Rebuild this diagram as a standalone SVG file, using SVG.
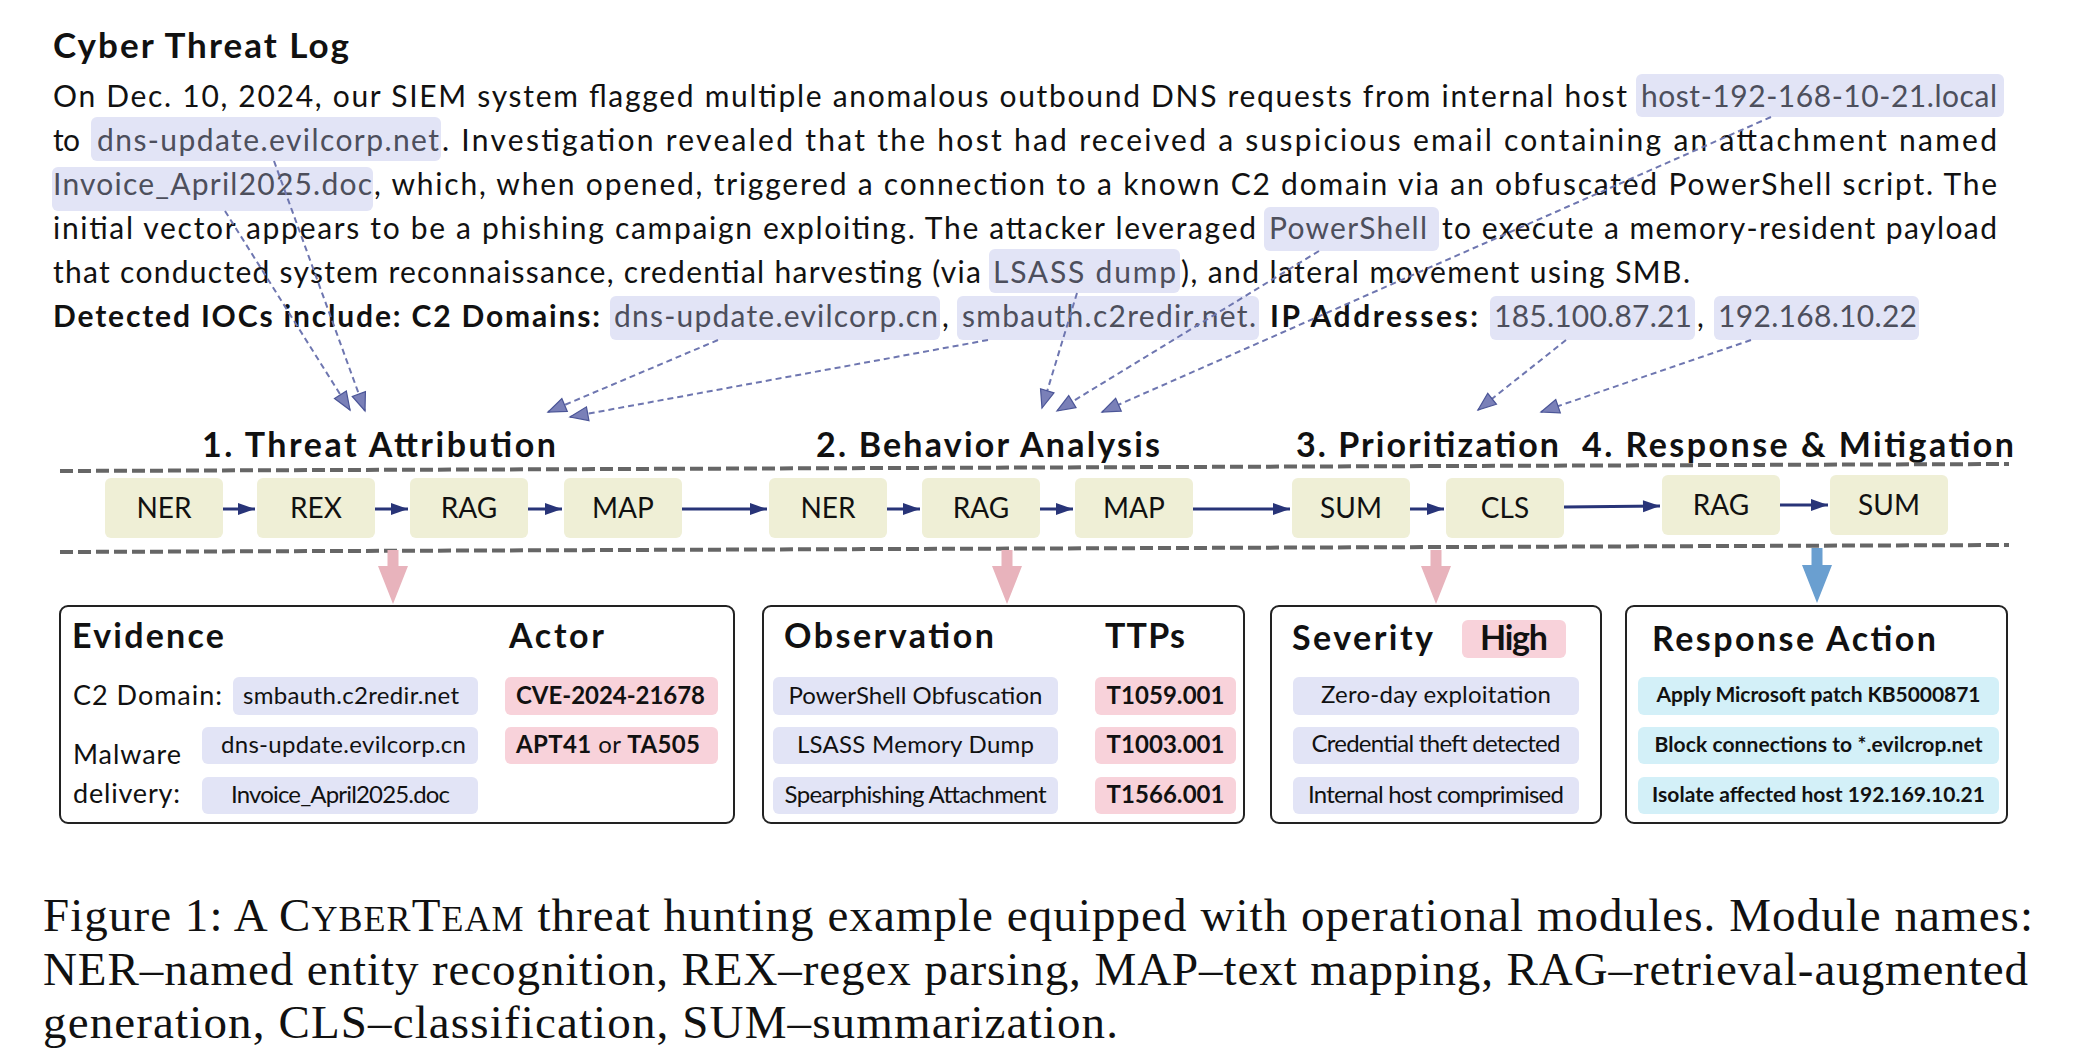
<svg xmlns="http://www.w3.org/2000/svg" width="2077" height="1064" viewBox="0 0 2077 1064">
<style>
  text { font-family: Lato, "Noto Sans", "Liberation Sans", sans-serif; fill: #111; }
  .title { font-size: 35px; font-weight: 700; }
  .body { font-size: 30px; }
  .bodyb { font-size: 30px; font-weight: 700; }
  .hlt { font-size: 30px; fill: #4d4f5c; }
  .hl { fill: #e2e4f6; }
  .stage { font-size: 34px; font-weight: 700; }
  .mod rect { fill: #efefd6; }
  .mod text { font-size: 28px; text-anchor: middle; }
  .panel { fill: #fff; stroke: #222; stroke-width: 2; }
  .ph { font-size: 34px; font-weight: 700; }
  .pl { font-size: 27px; }
  .pt { font-size: 24px; }
  .ptb { font-size: 24px; font-weight: 700; }
  .pr { font-size: 21px; font-weight: 700; }
  .lav { fill: #e2e4f6; }
  .pink { fill: #f8d2da; }
  .cyan { fill: #d3f0f8; }
  .flow { stroke: #283478; stroke-width: 3; fill: none; }
  .dash { stroke: #6e76b0; stroke-width: 2; stroke-dasharray: 6 4; fill: none; }
  .sep { stroke: #666; stroke-width: 4; stroke-dasharray: 13 5; fill: none; }
  .cap { font-family: "Liberation Serif", "Times New Roman", serif; font-size: 47px; }
</style>
<defs>
  <marker id="ah" markerUnits="userSpaceOnUse" markerWidth="18" markerHeight="14" refX="17" refY="6" orient="auto" overflow="visible">
    <path d="M0,0 L17,6 L0,12 Z" fill="#283478"/>
  </marker>
  <marker id="dh" markerUnits="userSpaceOnUse" markerWidth="20" markerHeight="16" refX="18" refY="7" orient="auto" overflow="visible">
    <path d="M0,0 L18,7 L0,14 Z" fill="#7a80b8" stroke="#4b5597" stroke-width="1.2" stroke-dasharray="none"/>
  </marker>
</defs>

<g id="log">
  <text class="title" x="53" y="58" textLength="296">Cyber Threat Log</text>
  <rect class="hl" x="1636" y="74" width="368" height="43" rx="6"/>
  <rect class="hl" x="91" y="117" width="350" height="44" rx="6"/>
  <rect class="hl" x="52" y="167" width="321" height="44" rx="6"/>
  <rect class="hl" x="1264" y="207" width="175" height="44" rx="6"/>
  <rect class="hl" x="989" y="249" width="191" height="44" rx="6"/>
  <rect class="hl" x="610" y="296" width="330" height="44" rx="6"/>
  <rect class="hl" x="957" y="296" width="302" height="44" rx="6"/>
  <rect class="hl" x="1490" y="296" width="205" height="44" rx="6"/>
  <rect class="hl" x="1714" y="296" width="205" height="44" rx="6"/>

  <text class="body" x="53" y="107" textLength="1574">On Dec. 10, 2024, our SIEM system flagged multiple anomalous outbound DNS requests from internal host</text>
  <text class="hlt" x="1641" y="107" textLength="356">host-192-168-10-21.local</text>

  <text class="body" x="53" y="151" textLength="27">to</text>
  <text class="hlt" x="97" y="151" textLength="342">dns-update.evilcorp.net</text>
  <text class="body" x="442" y="151" textLength="1555">. Investigation revealed that the host had received a suspicious email containing an attachment named</text>

  <text class="hlt" x="53" y="195" textLength="319">Invoice_April2025.doc</text>
  <text class="body" x="374" y="195" textLength="1623">, which, when opened, triggered a connection to a known C2 domain via an obfuscated PowerShell script. The</text>

  <text class="body" x="53" y="239" textLength="1203">initial vector appears to be a phishing campaign exploiting. The attacker leveraged</text>
  <text class="hlt" x="1269" y="239" textLength="158">PowerShell</text>
  <text class="body" x="1442" y="239" textLength="555">to execute a memory-resident payload</text>

  <text class="body" x="53" y="283" textLength="928">that conducted system reconnaissance, credential harvesting (via</text>
  <text class="hlt" x="993" y="283" textLength="183">LSASS dump</text>
  <text class="body" x="1181" y="283" textLength="509">), and lateral movement using SMB.</text>

  <text class="bodyb" x="53" y="327" textLength="547">Detected IOCs include: C2 Domains:</text>
  <text class="hlt" x="614" y="327" textLength="324">dns-update.evilcorp.cn</text>
  <text class="body" x="942" y="327">,</text>
  <text class="hlt" x="962" y="327" textLength="294">smbauth.c2redir.net.</text>
  <text class="bodyb" x="1270" y="327" textLength="208">IP Addresses:</text>
  <text class="hlt" x="1494" y="327" textLength="198">185.100.87.21</text>
  <text class="body" x="1697" y="327">,</text>
  <text class="hlt" x="1718" y="327" textLength="199">192.168.10.22</text>
</g>

<g id="stages">
  <text class="stage" x="202" y="457" textLength="354">1. Threat Attribution</text>
  <text class="stage" x="816" y="457" textLength="344">2. Behavior Analysis</text>
  <text class="stage" x="1296" y="457" textLength="263">3. Prioritization</text>
  <text class="stage" x="1582" y="457" textLength="432">4. Response &amp; Mitigation</text>
  <path class="sep" d="M60,471 L2009,464"/>
  <path class="sep" d="M60,552 L2009,545"/>
</g>

<g id="mod-ner1" class="mod"><rect x="105" y="478" width="118" height="60" rx="6"/><text x="164" y="518">NER</text></g>
<g id="mod-rex1" class="mod"><rect x="257" y="478" width="118" height="60" rx="6"/><text x="316" y="518">REX</text></g>
<g id="mod-rag1" class="mod"><rect x="410" y="478" width="118" height="60" rx="6"/><text x="469" y="518">RAG</text></g>
<g id="mod-map1" class="mod"><rect x="564" y="478" width="118" height="60" rx="6"/><text x="623" y="518">MAP</text></g>
<g id="mod-ner2" class="mod"><rect x="769" y="478" width="118" height="60" rx="6"/><text x="828" y="518">NER</text></g>
<g id="mod-rag2" class="mod"><rect x="922" y="478" width="118" height="60" rx="6"/><text x="981" y="518">RAG</text></g>
<g id="mod-map2" class="mod"><rect x="1075" y="478" width="118" height="60" rx="6"/><text x="1134" y="518">MAP</text></g>
<g id="mod-sum1" class="mod"><rect x="1292" y="478" width="118" height="60" rx="6"/><text x="1351" y="518">SUM</text></g>
<g id="mod-cls" class="mod"><rect x="1446" y="478" width="118" height="60" rx="6"/><text x="1505" y="518">CLS</text></g>
<g id="mod-rag3" class="mod"><rect x="1662" y="475" width="118" height="60" rx="6"/><text x="1721" y="515">RAG</text></g>
<g id="mod-sum2" class="mod"><rect x="1830" y="475" width="118" height="60" rx="6"/><text x="1889" y="515">SUM</text></g>

<g id="connectors">
  <path class="flow" marker-end="url(#ah)" d="M223,509 L255,509"/>
  <path class="flow" marker-end="url(#ah)" d="M375,509 L408,509"/>
  <path class="flow" marker-end="url(#ah)" d="M528,509 L562,509"/>
  <path class="flow" marker-end="url(#ah)" d="M682,509 L767,509"/>
  <path class="flow" marker-end="url(#ah)" d="M887,509 L920,509"/>
  <path class="flow" marker-end="url(#ah)" d="M1040,509 L1073,509"/>
  <path class="flow" marker-end="url(#ah)" d="M1193,509 L1290,509"/>
  <path class="flow" marker-end="url(#ah)" d="M1410,509 L1444,509"/>
  <path class="flow" marker-end="url(#ah)" d="M1564,507 L1660,506"/>
  <path class="flow" marker-end="url(#ah)" d="M1780,505 L1828,505"/>

  <path class="dash" marker-end="url(#dh)" d="M225,211 L350,410"/>
  <path class="dash" marker-end="url(#dh)" d="M274,161 L365,411"/>
  <path class="dash" marker-end="url(#dh)" d="M718,340 L548,412"/>
  <path class="dash" marker-end="url(#dh)" d="M988,340 L570,417"/>
  <path class="dash" marker-end="url(#dh)" d="M1077,293 L1042,408"/>
  <path class="dash" marker-end="url(#dh)" d="M1319,251 L1057,411"/>
  <path class="dash" marker-end="url(#dh)" d="M1771,117 L1102,412"/>
  <path class="dash" marker-end="url(#dh)" d="M1566,340 L1478,410"/>
  <path class="dash" marker-end="url(#dh)" d="M1751,340 L1541,412"/>

  <path fill="#e8b3bc" d="M387.5,550 L398.5,550 L398.5,566 L408,566 L393,604 L378,566 L387.5,566 Z"/>
  <path fill="#e8b3bc" d="M1001.5,550 L1012.5,550 L1012.5,566 L1022,566 L1007,604 L992,566 L1001.5,566 Z"/>
  <path fill="#e8b3bc" d="M1430.5,550 L1441.5,550 L1441.5,566 L1451,566 L1436,604 L1421,566 L1430.5,566 Z"/>
  <path fill="#6a9fd0" d="M1811.5,548 L1822.5,548 L1822.5,565 L1832,565 L1817,603 L1802,565 L1811.5,565 Z"/>
</g>

<g id="panel-evidence">
  <rect class="panel" x="60" y="606" width="674" height="217" rx="8"/>
  <text class="ph" x="72" y="648" textLength="152">Evidence</text>
  <text class="ph" x="509" y="648" textLength="95">Actor</text>
  <text class="pl" x="73" y="705" textLength="149">C2 Domain:</text>
  <text class="pl" x="73" y="764" textLength="108">Malware</text>
  <text class="pl" x="73" y="803" textLength="107">delivery:</text>
  <rect class="lav" x="233" y="677" width="245" height="38" rx="6"/>
  <rect class="lav" x="202" y="727" width="276" height="37" rx="6"/>
  <rect class="lav" x="202" y="777" width="276" height="37" rx="6"/>
  <rect class="pink" x="505" y="677" width="213" height="38" rx="6"/>
  <rect class="pink" x="505" y="727" width="213" height="37" rx="6"/>
  <text class="pt" x="243" y="704" textLength="216">smbauth.c2redir.net</text>
  <text class="pt" x="221" y="753" textLength="245">dns-update.evilcorp.cn</text>
  <text class="pt" x="231" y="803" textLength="219">Invoice_April2025.doc</text>
  <text class="ptb" x="516" y="704" textLength="189">CVE-2024-21678</text>
  <text class="pt" x="516" y="753" textLength="184"><tspan font-weight="700">APT41</tspan> or <tspan font-weight="700">TA505</tspan></text>
</g>

<g id="panel-observation">
  <rect class="panel" x="763" y="606" width="481" height="217" rx="8"/>
  <text class="ph" x="784" y="648" textLength="210">Observation</text>
  <text class="ph" x="1105" y="648" textLength="80">TTPs</text>
  <rect class="lav" x="773" y="677" width="285" height="38" rx="6"/>
  <rect class="lav" x="773" y="727" width="285" height="37" rx="6"/>
  <rect class="lav" x="773" y="777" width="285" height="37" rx="6"/>
  <rect class="pink" x="1095" y="677" width="141" height="38" rx="6"/>
  <rect class="pink" x="1095" y="727" width="141" height="37" rx="6"/>
  <rect class="pink" x="1095" y="777" width="141" height="37" rx="6"/>
  <text class="pt" x="788.5" y="704" textLength="254">PowerShell Obfuscation</text>
  <text class="pt" x="797" y="753" textLength="237">LSASS Memory Dump</text>
  <text class="pt" x="784.5" y="803" textLength="262">Spearphishing Attachment</text>
  <text class="ptb" x="1106.5" y="704" textLength="118">T1059.001</text>
  <text class="ptb" x="1106.5" y="753" textLength="118">T1003.001</text>
  <text class="ptb" x="1106.5" y="803" textLength="118">T1566.001</text>
</g>

<g id="panel-severity">
  <rect class="panel" x="1271" y="606" width="330" height="217" rx="8"/>
  <text class="ph" x="1292" y="650" textLength="141">Severity</text>
  <rect class="pink" x="1462" y="620" width="104" height="38" rx="6"/>
  <text class="ph" x="1480" y="650" textLength="68">High</text>
  <rect class="lav" x="1293" y="677" width="286" height="38" rx="6"/>
  <rect class="lav" x="1293" y="727" width="286" height="37" rx="6"/>
  <rect class="lav" x="1293" y="777" width="286" height="37" rx="6"/>
  <text class="pt" x="1321" y="703" textLength="230">Zero-day exploitation</text>
  <text class="pt" x="1311.5" y="752" textLength="249">Credential theft detected</text>
  <text class="pt" x="1308" y="803" textLength="256">Internal host comprimised</text>
</g>

<g id="panel-response">
  <rect class="panel" x="1626" y="606" width="381" height="217" rx="8"/>
  <text class="ph" x="1652" y="651" textLength="284">Response Action</text>
  <rect class="cyan" x="1638" y="677" width="361" height="38" rx="6"/>
  <rect class="cyan" x="1638" y="727" width="361" height="37" rx="6"/>
  <rect class="cyan" x="1638" y="777" width="361" height="37" rx="6"/>
  <text class="pr" x="1656.5" y="702" textLength="324">Apply Microsoft patch KB5000871</text>
  <text class="pr" x="1654.5" y="752" textLength="328">Block connections to *.evilcrop.net</text>
  <text class="pr" x="1652" y="802" textLength="333">Isolate affected host 192.169.10.21</text>
</g>

<g id="caption">
  <text class="cap" x="43" y="931" textLength="1990">Figure 1: A C<tspan font-size="36">YBER</tspan>T<tspan font-size="36">EAM</tspan> threat hunting example equipped with operational modules. Module names:</text>
  <text class="cap" x="43" y="985" textLength="1985">NER–named entity recognition, REX–regex parsing, MAP–text mapping, RAG–retrieval-augmented</text>
  <text class="cap" x="43" y="1038" textLength="1075">generation, CLS–classification, SUM–summarization.</text>
</g>
</svg>
